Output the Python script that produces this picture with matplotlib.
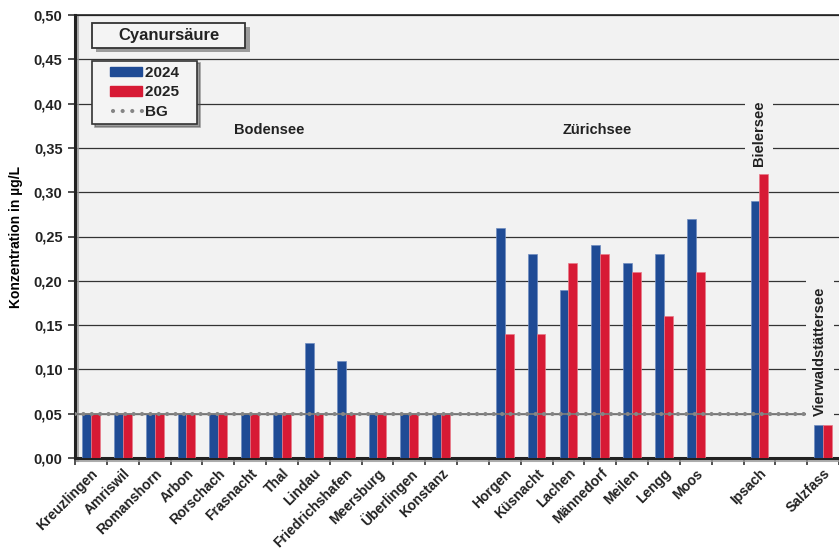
import numpy as np
import matplotlib.pyplot as plt
from matplotlib.patches import Rectangle, Patch
from matplotlib.lines import Line2D
from matplotlib.legend_handler import HandlerPatch, HandlerLine2D
import matplotlib.patheffects as pe

plt.rcParams['font.family'] = ['Liberation Sans', 'DejaVu Sans']
plt.rcParams['font.weight'] = 'bold'

# Sites, None = empty spacer slot between lakes
sites = ["Kreuzlingen", "Amriswil", "Romanshorn", "Arbon", "Rorschach", "Frasnacht",
         "Thal", "Lindau", "Friedrichshafen", "Meersburg", "Überlingen", "Konstanz",
         None,
         "Horgen", "Küsnacht", "Lachen", "Männedorf", "Meilen", "Lengg", "Moos",
         None, "Ipsach", None, "Salzfass"]
val_2024 = [0.05, 0.05, 0.05, 0.05, 0.05, 0.05, 0.05, 0.13, 0.11, 0.05, 0.05, 0.05,
            np.nan,
            0.26, 0.23, 0.19, 0.24, 0.22, 0.23, 0.27,
            np.nan, 0.29, np.nan, 0.037]
val_2025 = [0.05, 0.05, 0.05, 0.05, 0.05, 0.05, 0.05, 0.05, 0.05, 0.05, 0.05, 0.05,
            np.nan,
            0.14, 0.14, 0.22, 0.23, 0.21, 0.16, 0.21,
            np.nan, 0.32, np.nan, 0.037]
bg_value = 0.05
lakes = [("Bodensee", 5.6, 0.37, 0), ("Zürichsee", 15.9, 0.37, 0),
         ("Bielersee", 21.0, 0.366, 90), ("Vierwaldstättersee", 22.9, 0.12, 90)]

BLUE = '#1f4b95'
RED = '#d71a35'
BGC = '#f2f2f2'
DOT = '#858585'

# legend handles drawn only in the right part of the handle box (extra left padding)
SHIFT = 0.29


def right_patch(legend, orig_handle, xdescent, ydescent, width, height, fontsize):
    return Rectangle((-xdescent + width * SHIFT, -ydescent), width * (1 - SHIFT), height)


class ShiftedLine(HandlerLine2D):
    def get_xdata(self, legend, xdescent, ydescent, width, height, fontsize):
        x0 = -xdescent + width * SHIFT + 2
        x1 = -xdescent + width
        return np.array([x0, x1]), np.array([x0, x1])


fig = plt.figure(figsize=(8.39, 5.5), dpi=100)
ax = fig.add_axes([0.0894, 0.1673, 0.9106, 0.8054])
ax.set_facecolor(BGC)

x = np.arange(len(sites))
w = 0.28
ax.bar(x - w / 2, val_2024, w, color=BLUE, edgecolor='#6f8cc0', linewidth=0.5, zorder=3)
ax.bar(x + w / 2, val_2025, w, color=RED, edgecolor='#e77a88', linewidth=0.5, zorder=3)

# BG line (detection limit) stops before Salzfass slot: thin gray line with round dots
bg_x = [-0.5, len(sites) - 1.5]
ax.plot(bg_x, [bg_value, bg_value], color='#7a7a7a', lw=1.3, zorder=4)
ax.plot(bg_x, [bg_value, bg_value], color=DOT, lw=3.0,
        linestyle=(0, (0.01, 2.0)), dash_capstyle='round', zorder=4)

ax.set_xlim(-0.5, len(sites) - 0.5)
ax.set_ylim(0, 0.5)
ax.set_yticks(np.arange(0, 0.51, 0.05))
ax.set_yticklabels([f"{v:.2f}".replace('.', ',') for v in np.arange(0, 0.51, 0.05)],
                   fontsize=10.5, fontweight='bold', color='#222222')
ax.grid(axis='y', color='#333333', linewidth=0.9, zorder=1)
ax.set_axisbelow(True)

ax.set_xticks(x)
ax.set_xticklabels([s if s else "" for s in sites], rotation=45, ha='right',
                   rotation_mode='anchor', fontsize=10, fontweight='bold', color='#222222')
ax.tick_params(axis='x', which='major', length=0, pad=6)
ax.set_xticks(np.arange(-0.5, len(sites), 1.0), minor=True)
ax.tick_params(axis='x', which='minor', length=5, width=1.2, color='#333333', direction='out')
ax.tick_params(axis='y', length=5, width=1.2, color='#333333', direction='out', pad=4)

ax.set_ylabel("Konzentration in µg/L", fontsize=10, fontweight='bold', labelpad=8)

shadow = [pe.SimpleLineShadow(offset=(1.5, -1.5), shadow_color='#999999', alpha=0.8), pe.Normal()]
for side in ['left', 'bottom']:
    ax.spines[side].set_linewidth(2.2)
    ax.spines[side].set_color('#222222')
    ax.spines[side].set_path_effects(shadow)
ax.spines['top'].set_linewidth(1.2)
ax.spines['top'].set_color('#222222')
ax.spines['right'].set_visible(False)

# lake labels
for name, lx, ly, rot in lakes:
    ax.text(lx, ly, name, rotation=rot, ha='center', va='center', fontsize=10.5,
            fontweight='bold', color='#222222', zorder=5,
            bbox=dict(facecolor=BGC, edgecolor='none', pad=5) if rot else None)

# title box
title_box = Rectangle((0.022, 0.925), 0.201, 0.057, transform=ax.transAxes,
                      facecolor='#f4f4f4', edgecolor='#333333', linewidth=1.3, zorder=6,
                      path_effects=[pe.SimplePatchShadow(offset=(3, -3), shadow_rgbFace='#777777', alpha=0.7), pe.Normal()])
ax.add_patch(title_box)
ax.text(0.1225, 0.9535, "Cyanursäure", transform=ax.transAxes, ha='center', va='center',
        fontsize=12, fontweight='bold', color='#222222', zorder=7)

patch_24 = Patch(color=BLUE)
patch_25 = Patch(color=RED)
bg_line = Line2D([0], [0], color=DOT, lw=3.0, linestyle=(0, (0.01, 2.3)), dash_capstyle='round')
leg = ax.legend([patch_24, patch_25, bg_line], ["2024   ", "2025   ", "BG"], loc='upper left',
                bbox_to_anchor=(0.022, 0.897), frameon=True, fancybox=False, shadow=True,
                fontsize=11, handlelength=2.95, handleheight=0.6, borderpad=0.35,
                labelspacing=0.35, handletextpad=0.2, borderaxespad=0,
                handler_map={Patch: HandlerPatch(patch_func=right_patch), Line2D: ShiftedLine()})
leg.get_frame().set_edgecolor('#333333')
leg.get_frame().set_linewidth(1.2)
leg.get_frame().set_facecolor('#f4f4f4')
leg.set_zorder(6)
for t in leg.get_texts():
    t.set_fontweight('bold')
    t.set_color('#222222')

fig.savefig("out.png", dpi=100, facecolor='white')
